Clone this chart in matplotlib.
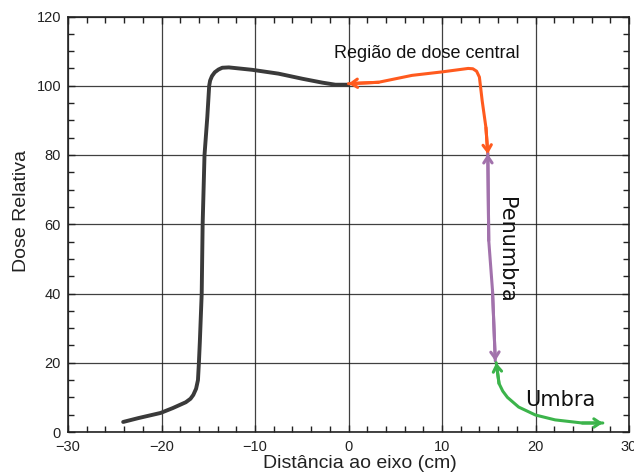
import matplotlib
matplotlib.use("Agg")
import matplotlib.pyplot as plt
from matplotlib.ticker import MultipleLocator

# Measured beam profile (left half)
profile_x = [-24.1, -22.5, -20.1, -18.8, -17.4, -16.9, -16.6, -16.3, -16.1, -16.0, -15.9, -15.7,
             -15.6, -15.4, -15.1, -14.9, -14.8, -14.6, -14.3, -13.9, -13.5, -12.8, -10.3, -7.5,
             -4.9, -2.8, -1.4, 0.0]
profile_y = [2.9, 4.0, 5.5, 6.9, 8.6, 9.6, 10.7, 12.5, 15.0, 20.0, 26.0, 40.0,
             60.0, 80.0, 91.0, 100.0, 101.5, 102.8, 103.9, 104.7, 105.2, 105.3, 104.6, 103.5,
             102.0, 100.9, 100.3, 100.3]

# Region brackets drawn over the right half of the profile
central_x = [0.0, 3.2, 6.8, 10.0, 12.8, 13.3, 13.7, 14.0, 14.3, 14.7, 14.9]
central_y = [100.6, 101.0, 103.0, 104.0, 105.0, 104.9, 104.2, 102.5, 95.6, 87.9, 80.3]

penumbra_x = [14.9, 15.0, 15.4, 15.7]
penumbra_y = [80.3, 55.3, 40.9, 20.5]

umbra_x = [15.8, 16.1, 16.5, 17.0, 18.2, 20.0, 22.1, 25.0, 27.2]
umbra_y = [20.0, 14.0, 11.8, 10.0, 7.2, 4.9, 3.5, 2.6, 2.6]

x_ticks = [-30, -20, -10, 0, 10, 20, 30]
y_ticks = [0, 20, 40, 60, 80, 100, 120]

label_central = "Região de dose central"
label_penumbra = "Penumbra"
label_umbra = "Umbra"

plt.rcParams["font.family"] = ["Liberation Sans", "DejaVu Sans"]

fig = plt.figure(figsize=(6.34, 4.75), dpi=100)
ax = fig.add_axes([68 / 634, 1 - 432 / 475, (629 - 68) / 634, (432 - 16.5) / 475])

ax.set_xlim(-30, 30)
ax.set_ylim(0, 120)
ax.set_xticks(x_ticks)
ax.set_yticks(y_ticks)
ax.xaxis.set_minor_locator(MultipleLocator(2))
ax.yaxis.set_minor_locator(MultipleLocator(5))
ax.set_xticklabels([f"{t}".replace("-", "\u2212") for t in x_ticks])
ax.tick_params(which="both", direction="in", top=True, right=True, color="#222222")
ax.tick_params(which="major", length=5, width=1.0, labelsize=10.5, labelcolor="#222222")
ax.tick_params(which="minor", length=4, width=1.0)
ax.tick_params(axis="x", which="major", pad=6)
ax.tick_params(axis="y", which="major", pad=5)

ax.grid(True, which="major", color="#1e1e1e", linewidth=0.9, alpha=0.85)
for s in ax.spines.values():
    s.set_color("#222222")
    s.set_linewidth(1.2)

ax.plot(profile_x, profile_y, color="#3a3a3a", lw=2.8, solid_capstyle="round",
        solid_joinstyle="round", zorder=3)


def bracket(xs, ys, color):
    ax.plot(xs, ys, color=color, lw=2.2, solid_capstyle="round",
            solid_joinstyle="round", zorder=4)
    head = dict(arrowstyle="->,head_length=0.45,head_width=0.3", color=color, lw=2.2,
                shrinkA=0, shrinkB=0)
    ax.annotate("", xy=(xs[0], ys[0]), xytext=(xs[1], ys[1]), arrowprops=head, zorder=4)
    ax.annotate("", xy=(xs[-1], ys[-1]), xytext=(xs[-2], ys[-2]), arrowprops=head, zorder=4)


bracket(central_x, central_y, "#ff5a1e")
bracket(penumbra_x, penumbra_y, "#a272ac")
bracket(umbra_x, umbra_y, "#3cb44b")

ax.text(-1.6, 108.1, label_central, fontsize=13, color="#111111", ha="left", va="baseline")
ax.text(16.8, 52.7, label_penumbra, fontsize=15, color="#111111", rotation=270,
        ha="center", va="center", family="DejaVu Sans")
ax.text(18.9, 7.5, label_umbra, fontsize=15, color="#111111", ha="left", va="baseline",
        family="DejaVu Sans")

fig.text(22 / 634, 1 - 211 / 475, "Dose Relativa", rotation=90, fontsize=14,
         color="#222222", ha="center", va="center")
fig.text(360 / 634, 1 - 468 / 475, "Distância ao eixo (cm)", fontsize=14,
         color="#222222", ha="center", va="baseline")

fig.savefig("out.png", dpi=100)
